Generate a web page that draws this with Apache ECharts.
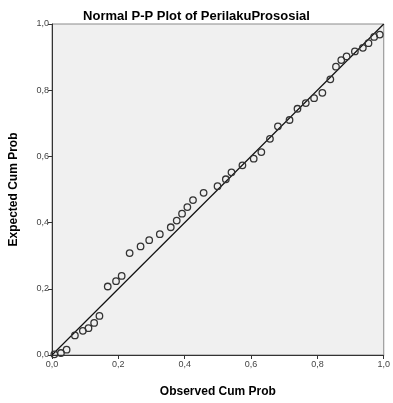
<!DOCTYPE html>
<html>
<head>
<meta charset="utf-8">
<script src="https://cdn.jsdelivr.net/npm/echarts@6/dist/echarts.min.js"></script>
<style>
html,body{margin:0;padding:0;background:#fff;}
#chart{width:393px;height:403px;}
</style>
</head>
<body>
<div id="chart"></div>
<script>
// Observed cumulative probability (x) and expected cumulative probability (y)
var observedCumProb = [0.007,0.027,0.044,0.069,0.093,0.110,0.127,0.143,0.168,0.193,0.210,0.234,0.267,0.293,0.325,0.358,0.376,0.392,0.408,0.425,0.457,0.499,0.524,0.541,0.574,0.608,0.631,0.657,0.681,0.716,0.740,0.765,0.790,0.815,0.839,0.856,0.872,0.888,0.913,0.937,0.954,0.971,0.988];
var expectedCumProb = [0.002,0.006,0.016,0.059,0.073,0.081,0.097,0.118,0.207,0.223,0.239,0.308,0.328,0.347,0.365,0.386,0.406,0.427,0.447,0.468,0.490,0.510,0.531,0.552,0.573,0.593,0.613,0.653,0.691,0.710,0.744,0.761,0.776,0.792,0.833,0.871,0.891,0.902,0.917,0.928,0.942,0.961,0.968];
var diagonal = [[0,0],[1,1]];
var axisTicks = [0,0.2,0.4,0.6,0.8,1.0];

var points = observedCumProb.map(function(x,i){return [x, expectedCumProb[i]];});
var fmt = function(v){return v.toFixed(1).replace('.', ',');};
var font = '"Liberation Sans", Arial, sans-serif';

var chart = echarts.init(document.getElementById('chart'), null, {renderer:'canvas'});
chart.setOption({
  animation:false,
  backgroundColor:'#ffffff',
  title:{
    text:'Normal P-P Plot of PerilakuPrososial',
    left:'center', top:5,
    textStyle:{fontFamily:font, fontSize:13, fontWeight:'bold', color:'#000'}
  },
  grid:{left:49, right:6, top:24, bottom:43, show:true, backgroundColor:'#f0f0f0', borderColor:'#8a8a8a', borderWidth:1, containLabel:false},
  xAxis:{
    type:'value', min:axisTicks[0], max:axisTicks[axisTicks.length-1], interval:0.2,
    name:'Observed Cum Prob', nameLocation:'middle', nameGap:31,
    nameTextStyle:{fontFamily:font, fontSize:12, fontWeight:'bold', color:'#000'},
    axisLine:{show:true, lineStyle:{color:'#333', width:1}},
    axisTick:{show:true, inside:false, length:4, lineStyle:{color:'#333'}},
    axisLabel:{formatter:fmt, fontFamily:font, fontSize:9, color:'#444', margin:5},
    splitLine:{show:false}
  },
  yAxis:{
    type:'value', min:axisTicks[0], max:axisTicks[axisTicks.length-1], interval:0.2,
    name:'Expected Cum Prob', nameLocation:'middle', nameGap:32, nameRotate:90,
    nameTextStyle:{fontFamily:font, fontSize:12, fontWeight:'bold', color:'#000'},
    axisLine:{show:true, lineStyle:{color:'#333', width:1}},
    axisTick:{show:true, inside:false, length:4, lineStyle:{color:'#333'}},
    axisLabel:{formatter:fmt, fontFamily:font, fontSize:9, color:'#444', margin:3},
    splitLine:{show:false}
  },
  series:[
    {
      type:'line', data:diagonal, symbol:'none', silent:true,
      lineStyle:{color:'#111', width:1.2}, z:2
    },
    {
      type:'scatter', data:points, symbol:'circle', symbolSize:6.5,
      itemStyle:{color:'rgba(240,240,240,0)', borderColor:'#333', borderWidth:1.3, opacity:1}, z:3
    }
  ]
});
</script>
</body>
</html>
